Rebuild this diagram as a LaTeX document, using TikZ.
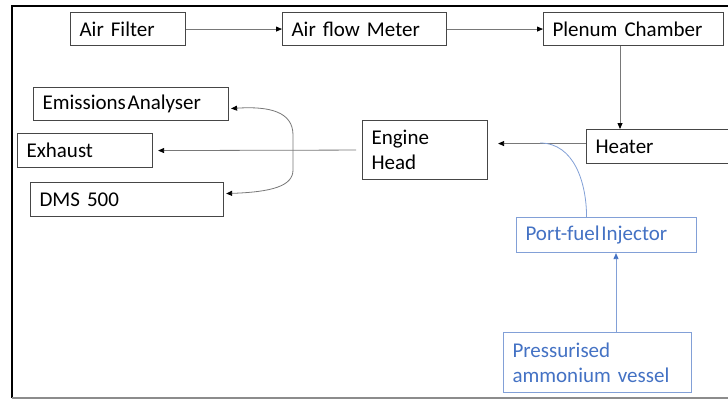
\documentclass[tikz,border=0pt]{standalone}
\usepackage{fontspec}
\setmainfont{Carlito}
\usetikzlibrary{arrows.meta}
\definecolor{boxgray}{RGB}{70,70,70}
\definecolor{linegray}{RGB}{120,120,120}
\definecolor{inkblue}{RGB}{68,114,196}
\definecolor{paleblue}{RGB}{130,160,215}
% label font with the narrow word spacing of the boxes
\newcommand\boxlabelfont{\fontsize{21}{25}\selectfont
  \fontdimen2\font=0.17em \fontdimen3\font=0pt \fontdimen4\font=0pt
  \spaceskip=0pt \xspaceskip=0pt\relax}
\tikzset{
  box/.style={draw=boxgray, line width=1.1pt, inner xsep=9pt, inner ysep=0pt,
    anchor=north west, font=\boxlabelfont},
  bluebox/.style={box, draw=paleblue, text=inkblue},
  arr/.style={draw=linegray, line width=0.8pt,
    -{Triangle[length=6pt,width=5pt,color=black]}},
  bluearr/.style={draw=paleblue, line width=0.8pt,
    -{Triangle[length=6pt,width=5pt,color=inkblue]}},
  bluelink/.style={draw=paleblue, line width=0.8pt}
}
\begin{document}
\begin{tikzpicture}[x=1pt,y=-1pt]
  \useasboundingbox (0,0) rectangle (728,400);
  \clip (0,0) rectangle (728,400);
  \fill[white] (0,0) rectangle (728,400);

  % outer frame
  \draw[line width=2pt, black] (12,398) -- (12,6) -- (728,6);
  \draw[line width=1.5pt, black!45] (12,398) -- (728,398);

  % intake line
  \node[box, text width=97pt,  minimum height=33pt] (af) at (70,12)  {Air Filter};
  \node[box, text width=146pt, minimum height=33pt] (am) at (282,12) {Air flow Meter};
  \node[box, text width=162pt, minimum height=33pt] (pc) at (543,12) {Plenum Chamber};
  \node[box, text width=156pt, minimum height=34pt] (he) at (586,129) {Heater};
  \node[box, text width=107pt, minimum height=59pt] (eh) at (362,120) {Engine\\Head};

  % exhaust side
  \node[box, text width=177pt, minimum height=33pt] (ea) at (33,87)  {Emissions\hspace{0.08em}Analyser};
  \node[box, text width=117pt, minimum height=34pt] (ex) at (17,133) {Exhaust};
  \node[box, text width=175pt, minimum height=34pt] (dm) at (30,182) {DMS 500};

  % fuel supply
  \node[bluebox, text width=162pt, minimum height=35pt] (pf) at (516,217) {Port-fuel\hspace{0.08em}Injector};
  \node[bluebox, text width=170pt, minimum height=60pt] (pv) at (503,332) {Pressurised\\ammonium vessel};

  % connectors
  \draw[arr] (af.east) -- (am.west);
  \draw[arr] (am.east) -- (pc.west);
  \coordinate (drop) at (620,0);
  \draw[arr] (drop |- pc.south) -- (drop |- he.north);
  \coordinate (merge) at (540,143);
  \draw[arr] ([yshift=3pt]he.west) -- ([xshift=10pt,yshift=6.5pt]eh.east);
  \draw[arr] ([xshift=-6pt]eh.west) -- ([xshift=5pt]ex.east);

  % sampling branch to the analysers
  \draw[arr, {Triangle[length=6pt,width=5pt,color=black]}-{Triangle[length=6pt,width=5pt,color=black]}]
    ([xshift=2pt,yshift=-4.5pt]ea.east)
      .. controls (270,106) and (293,112) .. (293,135)
      -- (293,170)
      .. controls (293,186) and (272,192) .. ([xshift=2pt,yshift=6pt]dm.east);

  % fuel path
  \draw[bluelink] ([xshift=-20pt]pf.north) to[out=90,in=0] (merge);
  \coordinate (feed) at (616,0);
  \draw[bluearr] (feed |- pv.north) -- (feed |- pf.south);
\end{tikzpicture}
\end{document}
